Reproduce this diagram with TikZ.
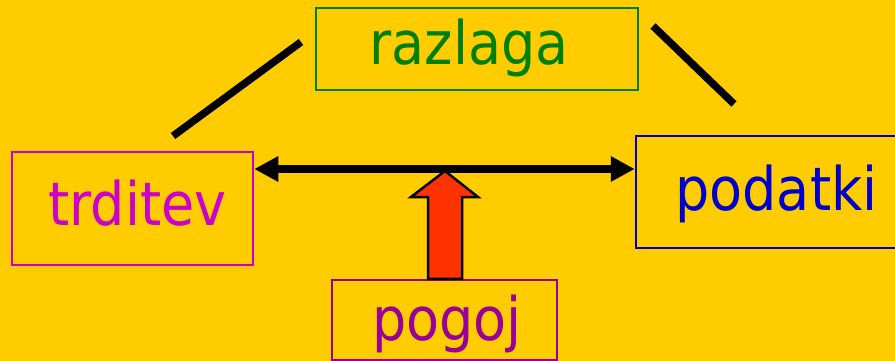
\documentclass[tikz,border=0pt]{standalone}
\usepackage{fontspec}
\setmainfont{DejaVu Sans Condensed}
\usetikzlibrary{arrows.meta}
\definecolor{bg}{HTML}{FFCC00}
\definecolor{cgreen}{HTML}{008000}
\definecolor{cmag}{HTML}{CC00CC}
\definecolor{cblue}{HTML}{0000CC}
\definecolor{cpurp}{HTML}{990099}
\definecolor{cred}{HTML}{FF3300}
\tikzset{
  box/.style={draw, line width=2.5pt, inner sep=0pt, fill=none},
  word/.style={anchor=base, inner sep=0pt, font=\fontsize{60}{60}\selectfont},
  thick line/.style={line width=7.5pt, black},
}
\begin{document}
\begin{tikzpicture}[x=1pt,y=-1pt]
\useasboundingbox (0,0) rectangle (895,361);
\clip (0,0) rectangle (895,361);
\fill[bg] (0,0) rectangle (895,361);
% boxes
\node[box, draw=cgreen, minimum width=322pt, minimum height=82pt] (razlaga) at (477,49) {};
\node[box, draw=cmag, minimum width=241pt, minimum height=113pt] (trditev) at (132.5,208.5) {};
\node[box, draw=cblue, minimum width=274pt, minimum height=112pt] (podatki) at (773,192) {};
\node[box, draw=cpurp, minimum width=225pt, minimum height=80pt] (pogoj) at (444.5,320) {};
% words
\node[word, text=cgreen] (trazlaga) at (469,65) {razlaga};
\node[word, text=cmag] (ttrditev) at (137.5,225) {trditev};
\node[word, text=cblue] (tpodatki) at (776.5,210) {podatki};
\node[word, text=cpurp] (tpogoj) at (447,340) {pogoj};
% diagonal lines
\coordinate (l1) at (173,136);
\coordinate (l2) at (301,42);
\coordinate (r1) at (653,26);
\coordinate (r2) at (734,104);
\draw[thick line] (l1) -- (l2);
\draw[thick line] (r1) -- (r2);
% double arrow
\coordinate (ay) at (0,169);
\draw[thick line, {Triangle[length=24pt,width=24pt]}-{Triangle[length=24pt,width=24pt]}]
  (trditev.east |- ay) -- (podatki.west |- ay);
% red block arrow
\coordinate (tip) at (445,171);
\draw[fill=cred, draw=black, line width=2.5pt, line join=miter]
  (pogoj.north -| 428,0) -- (428,197) -- (411,197) -- (tip) -- (478,197) -- (462,197) -- (pogoj.north -| 462,0) -- cycle;
\end{tikzpicture}
\end{document}
